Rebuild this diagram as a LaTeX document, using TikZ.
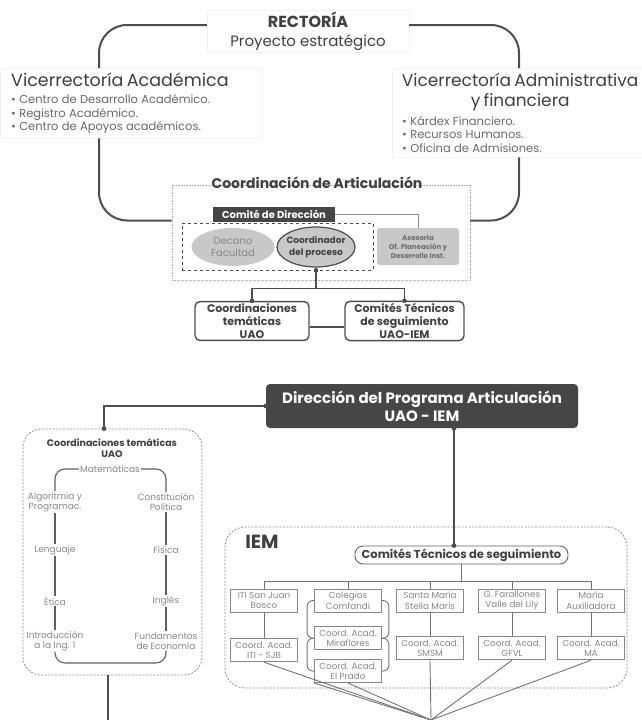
\documentclass[tikz,border=0pt]{standalone}
\usepackage{fontspec}
\setmainfont{Poppins}
\usetikzlibrary{arrows.meta,positioning,shapes.geometric}
\definecolor{cLine}{RGB}{77,77,77}
\definecolor{cDark}{RGB}{70,70,70}
\definecolor{cHead}{RGB}{64,64,64}
\definecolor{cItem}{RGB}{105,105,105}
\definecolor{cSoft}{RGB}{135,135,135}
\definecolor{cPale}{RGB}{200,200,200}
\definecolor{cFrame}{RGB}{140,140,140}

\begin{document}
\begin{tikzpicture}[x=1pt,y=-1pt,
    loopline/.style={draw=cLine, line width=2pt, rounded corners=28pt},
    link/.style={draw=cLine, line width=1.4pt},
    subjloop/.style={draw=cLine!90, line width=1.1pt, rounded corners=10pt},
    tree/.style={draw=cSoft!85!black, line width=0.9pt},
    whitebox/.style={rectangle, fill=white, draw=black!5},
    darkbox/.style={rectangle, fill=cDark, text=white, align=center, inner sep=0pt},
    unitbox/.style={rectangle, rounded corners=5pt, draw=cLine, line width=1.4pt, align=center,
      text=cHead, inner sep=2pt, font=\bfseries\fontsize{11}{13}\selectfont},
    school/.style={rectangle, draw=cSoft, line width=0.8pt, minimum width=67pt, minimum height=23pt,
      inner sep=1pt, align=center, text=cSoft, font=\fontsize{8.8}{10.5}\selectfont},
    subject/.style={align=center, text=cSoft, inner sep=1pt, font=\fontsize{9}{10}\selectfont},
    frame/.style={rectangle, rounded corners=18pt, draw=cFrame, dash pattern=on 2pt off 1.5pt, line width=0.8pt}]
  \useasboundingbox (0,0) rectangle (642,720);

  \coordinate (cL) at (99,0);
  \coordinate (cR) at (519,0);
  \node[whitebox, minimum width=202pt, minimum height=42pt, align=center, inner sep=0pt,
        text=cHead, font=\fontsize{15}{19}\selectfont] (rect) at (308,31)
    {{\bfseries\fontsize{16}{19}\selectfont RECTORÍA}\\Proyecto estratégico};
  \node[whitebox, anchor=north west, text width=240pt, minimum height=70pt, inner xsep=11pt, inner ysep=3pt,
        align=left, text=cHead] (vacad) at (0,68)
    {\fontsize{17.5}{20}\selectfont Vicerrectoría Académica\par\vspace{3pt}
     \fontsize{11.5}{14}\selectfont\color{cItem}\textbullet\ Centro de Desarrollo Académico.\\
     \textbullet\ Registro Académico.\\ \textbullet\ Centro de Apoyos académicos.};
  \node[whitebox, anchor=north west, text width=244pt, minimum height=89pt, inner xsep=6pt, inner ysep=3pt,
        align=left, text=cHead] (vadm) at (392,68)
    {{\centering\fontsize{17}{20}\selectfont Vicerrectoría Administrativa\\ y financiera\par}\vspace{5pt}
     {\fontsize{11.5}{13.5}\selectfont\color{cItem}\hspace*{4pt}\textbullet\ Kárdex Financiero.\\
     \hspace*{4pt}\textbullet\ Recursos Humanos.\\ \hspace*{4pt}\textbullet\ Oficina de Admisiones.\par}};

  \node[rectangle, draw=cFrame!70, densely dotted, line width=0.6pt, minimum width=298pt,
        minimum height=95pt] (coord) at (321,232.5) {};
  \node[inner sep=0pt, text=cHead, font=\bfseries\fontsize{14}{15}\selectfont] (coordtitle) at (317,183)
    {Coordinación de Articulación};
  \node[rectangle, draw=cLine, dashed, line width=0.9pt, minimum width=191pt, minimum height=47pt]
    (dashgrp) at (277.5,246.5) {};
  \node[darkbox, minimum width=122pt, minimum height=15pt, font=\bfseries\fontsize{10}{10}\selectfont]
    (comite) at (274,214.5) {Comité de Dirección};
  \node[ellipse, fill=cPale, minimum width=83pt, minimum height=38pt, inner sep=0pt, align=center,
        text=cSoft, font=\fontsize{10}{11.5}\selectfont] (decano) at (233,247) {Decano\\Facultad};
  \node[ellipse, fill=cPale, draw=cLine, line width=1.2pt, minimum width=78pt, minimum height=40pt,
        inner sep=-4pt, align=center, text=cHead, font=\bfseries\fontsize{9}{11.5}\selectfont]
    (coordr) at (316,247) {Coordinador\\del proceso};
  \node[rectangle, rounded corners=3pt, fill=cPale, minimum width=82pt, minimum height=37pt, inner sep=0pt,
        align=center, text=cSoft!80!black, font=\bfseries\fontsize{7}{9}\selectfont] (ases) at (418,246.5)
    {Asesoria\\Of. Planeación y\\Desarrollo Inst.};
  \node[unitbox, minimum width=114pt, minimum height=38pt] (ctuao) at (252,321)
    {Coordinaciones\\temáticas\\UAO};
  \node[unitbox, minimum width=119pt, minimum height=38pt] (ctiem) at (404.5,321)
    {Comités Técnicos\\de seguimiento\\UAO-IEM};

  \draw[loopline] ([yshift=6pt]rect.west) -| (vacad.north -| cL);
  \draw[loopline] (vacad.south -| cL) |- ([yshift=12pt]coord.west);
  \draw[loopline] ([yshift=6pt]rect.east) -| (vadm.north -| cR);
  \draw[loopline] (vadm.south -| cR) |- ([yshift=12pt]coord.east);
  \draw[draw=cFrame, line width=0.8pt] (comite.east) -| (ases.north);
  \draw[link] (coordr.south) -- ++(0,21) coordinate (fork) -| (ctuao.north);
  \draw[link] (fork) -| (ctiem.north);
  \draw[link] ([yshift=-6pt]ctuao.east) -- ([yshift=-6pt]ctiem.west);
  \fill[cLine] (coordr.south |- dashgrp.south) circle (2.3pt);
  \fill[cLine] (ctuao.north) circle (2.3pt);
  \fill[cLine] (ctiem.north) circle (2.3pt);

  \node[rectangle, rounded corners=4pt, fill=cDark, text=white, align=center, minimum width=312pt,
        minimum height=44pt, inner sep=0pt, font=\bfseries\fontsize{15}{18}\selectfont] (dir) at (422,406)
    {Dirección del Programa Articulación\\UAO - IEM};

  \node[frame, minimum width=179pt, minimum height=246pt] (ctl) at (112.5,552) {};
  \node[align=center, text=cHead, inner sep=0pt, font=\bfseries\fontsize{9.5}{11}\selectfont] (ctltitle)
    at (112,448) {Coordinaciones temáticas\\UAO};
  \node[subject] (mat) at (110,469) {Matemáticas};
  \node[subject] (alg) at (55,502) {Algoritmia y\\Programac.};
  \node[subject] (len) at (55,550) {Lenguaje};
  \node[subject] (eti) at (55,601) {Ética};
  \node[subject] (intro) at (55,641) {Introducción\\a la Ing. 1};
  \node[subject] (con) at (166,502) {Constitución\\Política};
  \node[subject] (fis) at (166,550) {Física};
  \node[subject] (ing) at (166,601) {Inglés};
  \node[subject] (fun) at (166,641) {Fundamentos\\de Economía};
  \draw[subjloop] (mat.west) -| (alg.north);
  \draw[subjloop] (mat.east) -| (con.north);
  \draw[subjloop] (alg.south) -- (len.north);
  \draw[subjloop] (len.south) -- (eti.north);
  \draw[subjloop] (eti.south) -- (intro.north);
  \draw[subjloop] (con.south) -- (fis.north);
  \draw[subjloop] (fis.south) -- (ing.north);
  \draw[subjloop] (ing.south) -- (fun.north);
  \draw[subjloop] (intro.south) -- ++(0,11) -| (fun.south);

  \node[frame, rounded corners=20pt, minimum width=402pt, minimum height=161pt] (iem) at (426,607.5) {};
  \node[text=cHead, inner sep=0pt, font=\bfseries\fontsize{19}{20}\selectfont] (iemlabel) at (262,542) {IEM};
  \node[rectangle, rounded corners=8pt, draw=cLine!90, line width=0.9pt, minimum width=213pt,
        minimum height=18pt, inner sep=0pt, text=cHead, font=\bfseries\fontsize{11.5}{12}\selectfont]
    (ctseg) at (461.5,555) {Comités Técnicos de seguimiento};

  \node[school] (iti) at (264,600.5) {ITI San Juan\\Bosco};
  \node[school] (comf) at (348,600.5) {Colegios\\Comfandi};
  \node[school] (stm) at (430,600.5) {Santa María\\Stella Maris};
  \node[school] (far) at (512,600.5) {G. Farallones\\Valle del Lily};
  \node[school] (aux) at (591,600.5) {María\\Auxiliadora};
  \node[school, below=26pt of iti] (citi) {Coord. Acad.\\ITI - SJB};
  \node[school, below=14pt of comf] (cmir) {Coord. Acad.\\Miraflores};
  \node[school, below=9pt of cmir] (cprado) {Coord. Acad.\\El Prado};
  \node[school, below=24pt of stm] (cstm) {Coord. Acad.\\SMSM};
  \node[school, below=24pt of far] (cfar) {Coord. Acad.\\GFVL};
  \node[school, below=24pt of aux] (caux) {Coord. Acad.\\MA};

  \coordinate (busy) at (0,581);
  \coordinate (ctlin) at (104,0);
  \coordinate (ctlend) at (108,720);
  \coordinate (dirx) at (454,0);
  \coordinate (fan) at (431,720);
  \draw[link] (dir.west) -| (ctl.north -| ctlin);
  \fill[cLine] (dir.west) circle (2.4pt);
  \fill[cLine] (ctl.north -| ctlin) circle (2.4pt);
  \draw[link] (dir.south -| dirx) -- (ctseg.north -| dirx);
  \fill[cLine] (dir.south -| dirx) circle (2.4pt);
  \fill[cLine] (ctseg.north -| dirx) circle (2.4pt);
  \draw[link] (ctl.south -| ctlend) -- (ctlend);

  \draw[tree] (ctseg.south) -- (ctseg.south |- busy);
  \draw[tree] (iti.north) |- (aux.north |- busy) -- (aux.north);
  \foreach \n in {comf,stm,far}
    \draw[tree] (\n.north) -- (\n.north |- busy);
  \foreach \a/\b in {iti/citi,stm/cstm,far/cfar,aux/caux}
    \draw[tree] (\a.south) -- (\b.north);
  \draw[tree, rounded corners=6pt] (comf.west) -- ++(-7,0) |- (cmir.west);
  \draw[tree, rounded corners=6pt] (cmir.west) -- ++(-7,0) |- (cprado.west);
  \draw[tree, rounded corners=6pt] (comf.east) -- ++(7,0) |- (cmir.east);
  \draw[tree, rounded corners=6pt] (cmir.east) -- ++(7,0) |- (cprado.east);
  \foreach \n in {citi.south,cprado.south west,cprado.south,cstm.south,cfar.south,caux.south}
    \draw[tree] (\n) -- (fan);
\end{tikzpicture}
\end{document}
